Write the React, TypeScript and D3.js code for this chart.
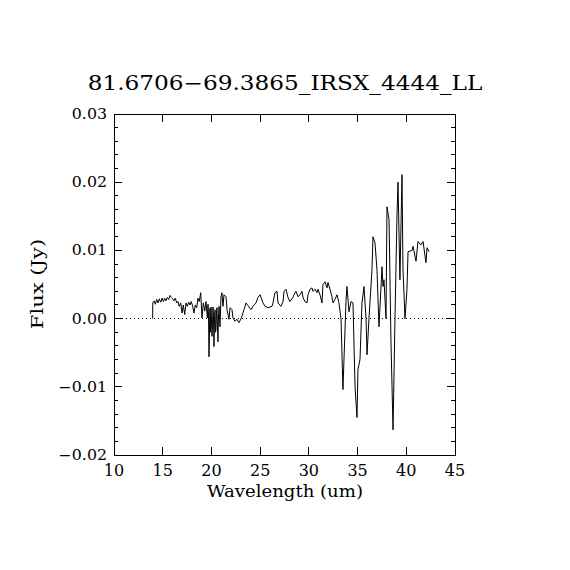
import React from 'react';
import * as d3 from 'd3';

const TITLE = '81.6706\u221269.3865_IRSX_4444_LL';
const X_LABEL = 'Wavelength (um)';
const Y_LABEL = 'Flux (Jy)';

const xTicks = [10, 15, 20, 25, 30, 35, 40, 45];
const yTicks = [-0.02, -0.01, 0.0, 0.01, 0.02, 0.03];
const yTickLabels = ['\u22120.02', '\u22120.01', '0.00', '0.01', '0.02', '0.03'];

// spectrum
const wavelength = [
  13.97, 13.98, 14.11, 14.24, 14.38, 14.52, 14.65, 14.79, 14.93, 15.06,
  15.20, 15.34, 15.47, 15.61, 15.75, 15.88, 16.02, 16.16, 16.29, 16.44,
  16.57, 16.70, 16.85, 16.98, 17.11, 17.26, 17.39, 17.52, 17.67, 17.80,
  17.93, 18.08, 18.21, 18.34, 18.49, 18.62, 18.75, 18.90, 19.03, 19.17,
  19.31, 19.44, 19.58, 19.65, 19.70, 19.75, 19.85, 19.90, 19.96, 20.06,
  20.11, 20.16, 20.21, 20.26, 20.31, 20.37, 20.42, 20.47, 20.52, 20.57,
  20.62, 20.67, 20.72, 20.78, 20.88, 20.98, 21.08, 21.19, 21.29,
  21.50, 21.60, 21.80, 21.91, 22.11, 22.21, 22.42, 22.62, 22.83, 23.04,
  23.14, 23.34, 23.55, 23.75, 24.06, 24.27, 24.57, 24.78, 24.99, 25.29,
  25.50, 25.81, 26.22, 26.32, 26.52, 26.73, 26.83, 27.14, 27.35, 27.45,
  27.65, 27.86, 28.06, 28.37, 28.47, 28.68, 28.89, 29.09, 29.30, 29.40,
  29.60, 29.81, 29.91, 30.12, 30.32, 30.43, 30.63, 30.84, 30.94, 31.14,
  31.35, 31.45, 31.66, 31.86, 31.96, 32.17, 32.37, 32.48, 32.68, 32.89,
  33.09, 33.30, 33.50, 33.81, 33.91, 34.12, 34.33, 34.53, 34.74, 34.94,
  35.04, 35.25, 35.45, 35.66, 35.87, 35.97, 36.17, 36.48, 36.58, 36.79,
  36.99, 37.20, 37.51, 37.61, 37.71, 37.92, 38.02, 38.23, 38.43, 38.64,
  38.84, 39.05, 39.15, 39.35, 39.56, 39.66, 39.87, 40.07, 40.18, 40.59,
  40.69, 41.00, 41.20, 41.51, 41.72, 42.02, 42.13, 42.33,
];

const flux = [
  0.0, 0.0023, 0.0026, 0.0021, 0.0028, 0.0023, 0.0029, 0.0024, 0.0030, 0.0025,
  0.0030, 0.0026, 0.0031, 0.0028, 0.0034, 0.0031, 0.0029, 0.0026, 0.0030, 0.0023,
  0.0025, 0.0018, 0.0023, 0.0008, 0.0020, 0.0006, 0.0023, 0.0018, 0.0024, 0.0020,
  0.0025, 0.0018, 0.0008, 0.0020, 0.0016, 0.0030, 0.0025, 0.0038, 0.0001, 0.0023,
  0.0011, 0.0025, 0.0001, 0.0021, 0.0005, -0.0056, 0.0015, -0.0020, 0.0017, -0.0026,
  -0.0010, 0.0017, 0.0005, -0.0041, -0.0005, 0.0013, -0.0020, -0.0016, 0.0008, 0.0016,
  -0.0010, -0.0034, 0.0000, 0.0018, -0.0012, 0.0032, 0.0038, 0.0018, 0.0035,
  0.0032, 0.0013, -0.0001, 0.0016, 0.0013, 0.0001, -0.0004, -0.0001, -0.0006, 0.0000,
  0.0004, 0.0013, 0.0023, 0.0019, 0.0013, 0.0018, 0.0023, 0.0031, 0.0035, 0.0023,
  0.0018, 0.0016, 0.0018, 0.0023, 0.0038, 0.0040, 0.0023, 0.0018, 0.0025, 0.0040,
  0.0043, 0.0031, 0.0025, 0.0031, 0.0035, 0.0040, 0.0032, 0.0035, 0.0040, 0.0031,
  0.0025, 0.0023, 0.0035, 0.0043, 0.0045, 0.0040, 0.0043, 0.0038, 0.0043, 0.0035,
  0.0023, 0.0050, 0.0054, 0.0045, 0.0053, 0.0043, 0.0032, 0.0023, 0.0028, 0.0035,
  0.0023, 0.0000, -0.0104, 0.0025, 0.0047, 0.0010, 0.0025, 0.0023, -0.0100, -0.0145,
  -0.0075, -0.0060, 0.0023, 0.0047, 0.0000, -0.0053, 0.0000, 0.0072, 0.0120, 0.0111,
  0.0072, -0.0012, 0.0076, 0.0047, 0.0057, 0.0000, 0.0164, 0.0145, -0.0035, -0.0163,
  0.0000, 0.0153, 0.0200, 0.0057, 0.0211, 0.0072, 0.0000, 0.0043, 0.0098, 0.0100,
  0.0106, 0.0084, 0.0113, 0.0108, 0.0113, 0.0082, 0.0104, 0.0098,
];

const W = 570;
const H = 570;
const margin = { top: 114, right: 115, bottom: 115, left: 114 };
const FONT = '"DejaVu Serif", "Liberation Serif", serif';

// text stretched sideways, the picture's plot font is wider than DejaVu
function SText(props: {
  x: number; y: number; size: number; sx?: number; rotate?: number;
  anchor?: 'start' | 'middle' | 'end'; children: React.ReactNode;
}) {
  const { x, y, size, sx = 1, rotate = 0, anchor = 'middle', children } = props;
  return (
    <text
      transform={`translate(${x},${y}) rotate(${rotate}) scale(${sx},1)`}
      textAnchor={anchor}
      fontFamily={FONT}
      fontSize={size}
      fill="#000"
    >
      {children}
    </text>
  );
}

export default function App() {
  const x = d3.scaleLinear().domain([10, 45]).range([margin.left, W - margin.right]);
  const y = d3.scaleLinear().domain([-0.02, 0.03]).range([H - margin.bottom, margin.top]);

  const pts = wavelength.map((w, i) => [w, flux[i]] as [number, number]);
  const line = d3.line<[number, number]>().x(d => x(d[0])).y(d => y(d[1]));

  const minorY = d3.range(-0.02, 0.03001, 0.002);
  const x0 = margin.left;
  const x1 = W - margin.right;
  const y0 = H - margin.bottom;
  const y1 = margin.top;

  return (
    <div style={{ position: 'absolute', left: 0, top: 0, background: '#fff' }}>
      <svg width={W} height={H} viewBox={`0 0 ${W} ${H}`} style={{ display: 'block' }}>
        <rect width={W} height={H} fill="#fff" />
        <SText x={285} y={90} size={20} sx={1.16}>{TITLE}</SText>

        {/* frame */}
        <rect x={x0} y={y1} width={x1 - x0} height={y0 - y1} fill="none" stroke="#000" strokeWidth={1} shapeRendering="crispEdges" />

        {/* x ticks, bottom and top */}
        {xTicks.map(t => (
          <g key={`xt${t}`} shapeRendering="crispEdges">
            <line x1={x(t)} x2={x(t)} y1={y0} y2={y0 - 8} stroke="#000" />
            <line x1={x(t)} x2={x(t)} y1={y1} y2={y1 + 8} stroke="#000" />
          </g>
        ))}
        {xTicks.map(t => (
          <SText key={`xl${t}`} x={x(t)} y={476} size={16}>{t}</SText>
        ))}

        {/* y minor ticks */}
        {minorY.map((t, i) => (
          <g key={`ym${i}`} shapeRendering="crispEdges">
            <line x1={x0} x2={x0 + 4} y1={y(t)} y2={y(t)} stroke="#000" />
            <line x1={x1} x2={x1 - 4} y1={y(t)} y2={y(t)} stroke="#000" />
          </g>
        ))}

        {/* y major ticks */}
        {yTicks.map((t, i) => (
          <g key={`yt${i}`} shapeRendering="crispEdges">
            <line x1={x0} x2={x0 + 8} y1={y(t)} y2={y(t)} stroke="#000" />
            <line x1={x1} x2={x1 - 8} y1={y(t)} y2={y(t)} stroke="#000" />
          </g>
        ))}
        {yTicks.map((t, i) => (
          <SText key={`yl${i}`} x={x0 - 7} y={y(t) + 5} size={14} sx={1.13} anchor="end">
            {yTickLabels[i]}
          </SText>
        ))}

        {/* zero line */}
        <line x1={x0} x2={x1} y1={y(0)} y2={y(0)} stroke="#000" strokeWidth={1} strokeDasharray="1 3" shapeRendering="crispEdges" />

        {/* spectrum */}
        <path d={line(pts) || ''} fill="none" stroke="#000" strokeWidth={1} strokeLinejoin="miter" />

        <SText x={285} y={497} size={16} sx={1.13}>{X_LABEL}</SText>
        <SText x={43} y={284} size={16} sx={1.32} rotate={-90}>{Y_LABEL}</SText>
      </svg>
    </div>
  );
}
